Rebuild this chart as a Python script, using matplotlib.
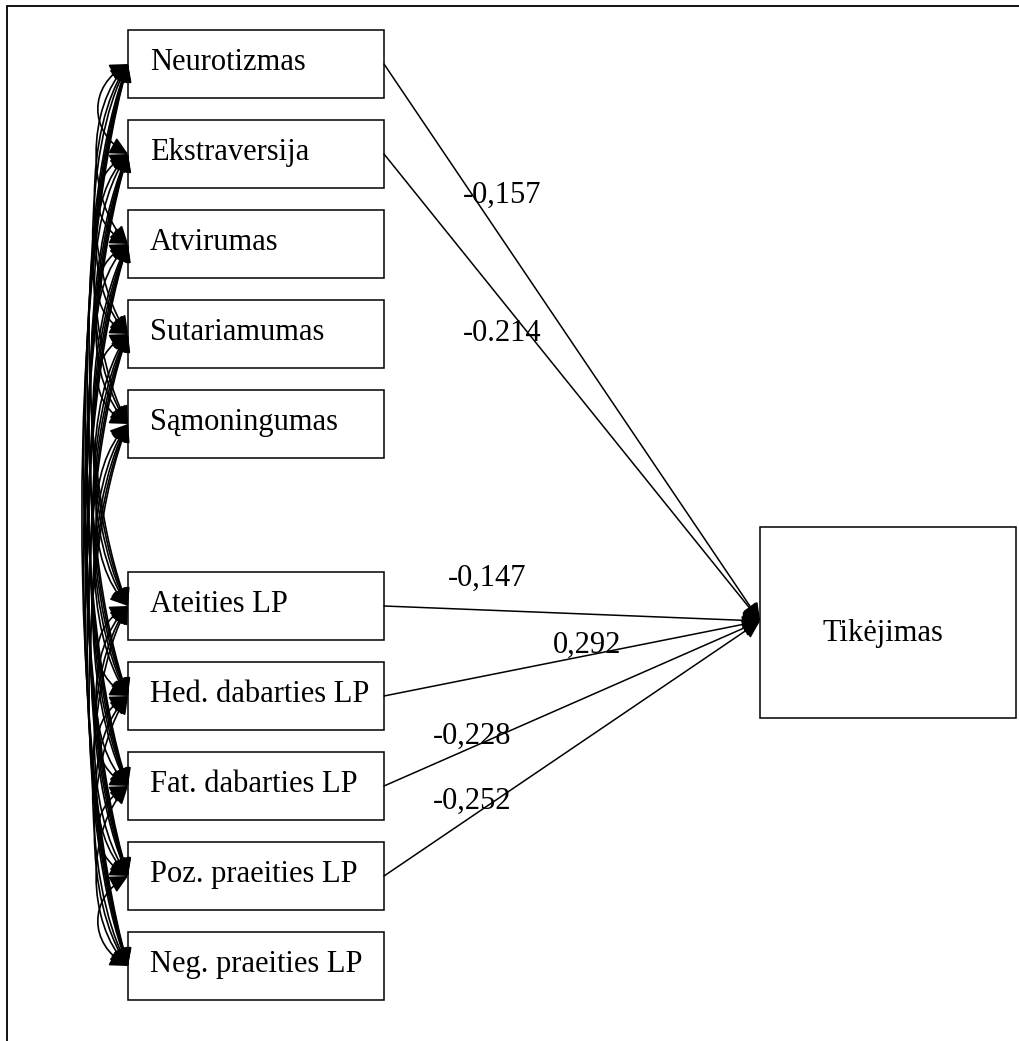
import matplotlib
matplotlib.use("Agg")
import matplotlib.pyplot as plt
from matplotlib.patches import Rectangle, FancyArrowPatch
from matplotlib.path import Path

# ---- data ----
predictors = ["Neurotizmas", "Ekstraversija", "Atvirumas", "Sutariamumas",
              "Sąmoningumas", "Ateities LP", "Hed. dabarties LP",
              "Fat. dabarties LP", "Poz. praeities LP", "Neg. praeities LP"]
outcome = "Tikėjimas"
path_sources = ["Neurotizmas", "Ekstraversija", "Ateities LP",
                "Hed. dabarties LP", "Fat. dabarties LP", "Poz. praeities LP"]
path_labels = ["-0,157", "-0.214", "-0,147", "0,292", "-0,228", "-0,252"]

# ---- layout (pixel coordinates) ----
W, H = 1019, 1041
box_tops = [30, 120, 210, 300, 390, 572, 662, 752, 842, 932]
box_x, box_w, box_h = 128, 256, 68
out_box = (760, 527, 256, 191)
target = (760, 621)
label_pos = [(463, 203), (463, 341), (448, 586), (553, 653), (433, 744), (433, 809)]

FONT = "Liberation Serif"
FS = 22
LW = 1.1

fig = plt.figure(figsize=(W / 100, H / 100), dpi=100)
ax = fig.add_axes([0, 0, 1, 1])
ax.set_xlim(0, W)
ax.set_ylim(H, 0)
ax.axis("off")

# outer frame (top and left visible)
ax.plot([7, 7, W + 5], [H + 5, 6, 6], color="black", lw=1.3, solid_joinstyle="miter")

# predictor boxes
for name, top in zip(predictors, box_tops):
    ax.add_patch(Rectangle((box_x, top), box_w, box_h, fill=False, ec="black", lw=LW))
    ax.text(box_x + 22, top + 40, name, fontfamily=FONT, fontsize=FS, va="baseline", ha="left")

# outcome box
ox, oy, ow, oh = out_box
ax.add_patch(Rectangle((ox, oy), ow, oh, fill=False, ec="black", lw=LW))
ax.text(ox + ow / 2 - 5, 641, outcome, fontfamily=FONT, fontsize=FS, va="baseline", ha="center")

# regression paths
for src, lab, (lx, ly) in zip(path_sources, path_labels, label_pos):
    top = box_tops[predictors.index(src)]
    start = (box_x + box_w, top + 34)
    arr = FancyArrowPatch(start, target, arrowstyle="-|>,head_length=0.6,head_width=0.3",
                          mutation_scale=18, color="black", lw=LW, shrinkA=0, shrinkB=0)
    ax.add_patch(arr)
    ax.text(lx, ly, lab, fontfamily=FONT, fontsize=FS, va="baseline", ha="left")

# covariances (double-headed curves) between all pairs
centers = [t + box_h / 2 for t in box_tops]
n = len(centers)
span = centers[-1] - centers[0]
for i in range(n):
    for j in range(i + 1, n):
        yi, yj = centers[i], centers[j]
        d = yj - yi
        bulge = 28 + 18 * (d / span)
        c = box_x - bulge / 0.75
        s = 0.24 * d
        verts = [(box_x, yi), (c, yi + s), (c, yj - s), (box_x, yj)]
        p = Path(verts, [Path.MOVETO, Path.CURVE4, Path.CURVE4, Path.CURVE4])
        arr = FancyArrowPatch(path=p, arrowstyle="<|-|>,head_length=0.6,head_width=0.3",
                              mutation_scale=18, color="black", lw=1.2,
                              shrinkA=0, shrinkB=0)
        ax.add_patch(arr)

fig.savefig("out.png", dpi=100)
